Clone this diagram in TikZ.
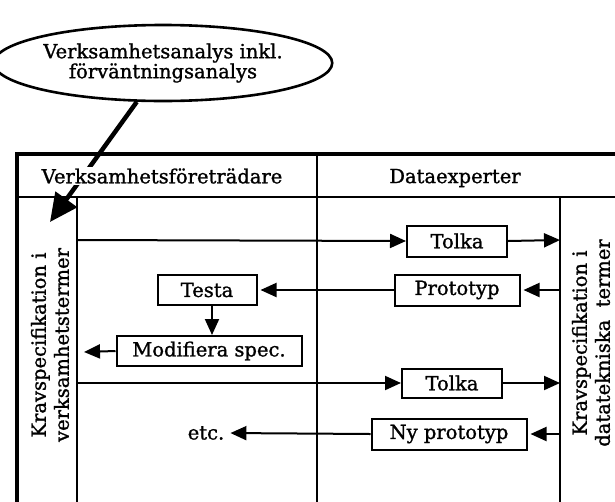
\documentclass[tikz,border=0pt]{standalone}
\usepackage{fontspec}
\setmainfont{DejaVu Serif}[UprightFeatures={FakeBold=1.2}]
\usetikzlibrary{arrows.meta,shapes.geometric}
\begin{document}
\begin{tikzpicture}[x=1pt,y=-1pt,
  every node/.style={font=\fontsize{19.5}{20}\selectfont},
  frame/.style={line width=3.2pt},
  lane/.style={line width=2.2pt},
  pbox/.style={draw,line width=2pt,inner sep=0pt,minimum height=31pt,fill=white},
  arr/.style={line width=2pt,-{Triangle[length=16pt,width=14pt]}},
  callout/.style={line width=4.5pt,-{Triangle[length=28pt,width=26pt]}},
  rot/.style={rotate=90,align=center,font=\fontsize{19.5}{23}\selectfont}]
\useasboundingbox (0,0) rectangle (615,501);
\clip (0,0) rectangle (615,501);
% frame
\draw[frame] (17,505) -- (17,154) -- (620,154);
\draw[lane] (17,197) -- (620,197);
\draw[lane] (317,154) -- (317,505);
\draw[lane] (77,197) -- (77,505);
\draw[lane] (560,197) -- (560,505);
% ellipse
\node[ellipse,draw,line width=2.6pt,minimum width=313pt,minimum height=76pt,align=center,inner sep=0pt] (ell) at (163,63)
  {Verksamhetsanalys inkl.\\förväntningsanalys};
\coordinate (tip1) at (50,222);
\draw[callout] (ell.236) -- (tip1);
% headers
\node[fill=white,inner sep=1pt] (hL) at (162,176) {Verksamhetsföreträdare};
\node[fill=white,inner sep=1pt] (hR) at (455,178) {Dataexperter};
% side texts
\node[rot] (kL) at (50,345) {Kravspecifikation i\\verksamhetstermer};
\node[rot] (kR) at (591,343) {Kravspecifikation i\\datatekniska\ \ termer};
% lane coordinates
\coordinate (a1) at (77,240);  \coordinate (b1) at (560,240);
\coordinate (b2) at (560,290);
\coordinate (a3) at (84,352);
\coordinate (a4) at (77,383);  \coordinate (b4) at (560,383);
\coordinate (b5) at (560,434);
% boxes
\node[pbox,minimum width=100pt] (t1) at (457,241) {Tolka};
\node[pbox,minimum width=125pt] (pr) at (457,290) {Prototyp};
\node[pbox,minimum width=99pt,minimum height=30pt] (te) at (207,290) {Testa};
\node[pbox,minimum width=185pt,minimum height=30pt] (mo) at (209,351) {Modifiera spec.};
\node[pbox,minimum width=100pt,minimum height=29pt] (t2) at (452,383) {Tolka};
\node[pbox,minimum width=155pt] (np) at (449,434) {Ny prototyp};
\node[inner sep=2pt] (etc) at (206,433) {etc.};
% arrows
\draw[arr] (a1) -- (t1.west);
\draw[arr] (t1.east) -- (b1);
\draw[arr,shorten >=3pt] (b2) -- (pr.east);
\draw[arr,shorten >=3pt] (pr.west) -- (te.east);
\draw[arr] (te.south -| 212,0) -- (mo.north -| 212,0);
\draw[arr] (mo.west) -- (a3);
\draw[arr] (a4) -- (t2.west);
\draw[arr] (t2.east) -- (b4);
\draw[arr,shorten >=3pt] (b5) -- (np.east);
\draw[arr,shorten >=4pt] (np.west) -- (etc.east);
\end{tikzpicture}
\end{document}
